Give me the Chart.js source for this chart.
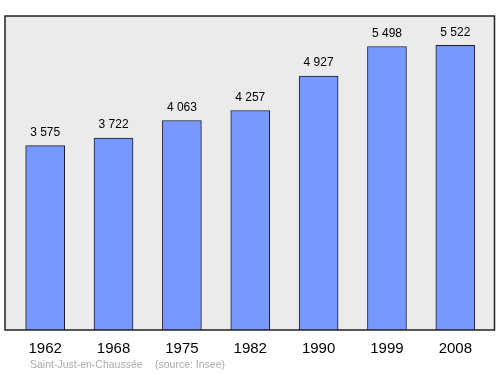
<!DOCTYPE html>
<html>
<head>
<meta charset="utf-8">
<script src="https://cdn.jsdelivr.net/npm/chart.js@4/dist/chart.umd.min.js"></script>
<style>
html,body{margin:0;padding:0;background:#fff;}
#wrap{width:500px;height:374px;position:relative;}
</style>
</head>
<body>
<div id="wrap"><canvas id="c" width="500" height="374"></canvas></div>
<script>
const years = ["1962", "1968", "1975", "1982", "1990", "1999", "2008"];
const population = [3575, 3722, 4063, 4257, 4927, 5498, 5522];
const valueLabels = ["3 575", "3 722", "4 063", "4 257", "4 927", "5 498", "5 522"];
const footerPlace = "Saint-Just-en-Chaussée";
const footerSource = "(source: Insee)";

const FONT = "'Liberation Sans', Arial, sans-serif";

const boxPlugin = {
  id: 'box',
  beforeDraw(chart) {
    const ctx = chart.ctx;
    const a = chart.chartArea;
    ctx.save();
    ctx.fillStyle = '#fff';
    ctx.fillRect(0, 0, chart.width, chart.height);
    const x0 = a.left - 6, x1 = a.right + 5, y0 = a.top, y1 = a.bottom;
    ctx.fillStyle = '#ebebeb';
    ctx.fillRect(x0, y0, x1 - x0, y1 - y0);
    ctx.restore();
  },
  afterDatasetsDraw(chart) {
    const ctx = chart.ctx;
    const a = chart.chartArea;
    const x0 = a.left - 6, x1 = a.right + 5, y0 = a.top, y1 = a.bottom;
    ctx.save();
    ctx.strokeStyle = '#222';
    ctx.lineWidth = 1.5;
    ctx.strokeRect(x0, y0, x1 - x0, y1 - y0);
    const meta = chart.getDatasetMeta(0);
    ctx.fillStyle = '#000';
    ctx.font = '12px ' + FONT;
    ctx.textAlign = 'center';
    ctx.textBaseline = 'middle';
    meta.data.forEach((bar, i) => {
      ctx.fillText(valueLabels[i], bar.x, bar.y - 13);
    });
    ctx.fillStyle = '#aaaaaa';
    ctx.font = '10.5px ' + FONT;
    ctx.textAlign = 'left';
    ctx.fillText(footerPlace, 30, 365);
    ctx.fillText(footerSource, 155, 365);
    ctx.restore();
  }
};

new Chart(document.getElementById('c'), {
  type: 'bar',
  data: {
    labels: years,
    datasets: [{
      data: population,
      backgroundColor: '#7799ff',
      borderColor: '#1a1a33',
      borderWidth: 1,
      barThickness: 39
    }]
  },
  options: {
    responsive: false,
    animation: false,
    devicePixelRatio: 1,
    layout: { padding: { top: 16, bottom: 14, left: 11, right: 10.5 } },
    plugins: { legend: { display: false }, tooltip: { enabled: false } },
    scales: {
      x: {
        grid: { display: false },
        border: { display: false },
        ticks: { color: '#000', font: { size: 15, family: FONT }, padding: 2, maxRotation: 0 }
      },
      y: { display: false, min: 0, max: 6090 }
    }
  },
  plugins: [boxPlugin]
});
</script>
</body>
</html>
